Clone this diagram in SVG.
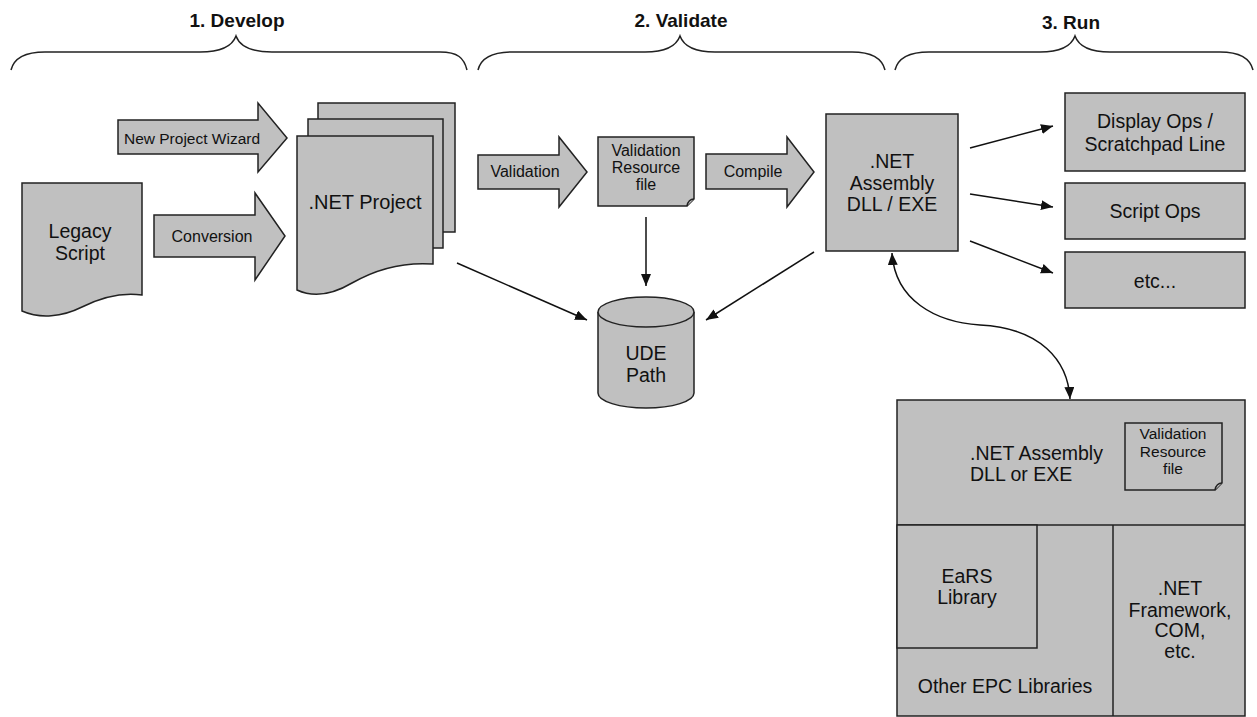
<svg xmlns="http://www.w3.org/2000/svg" width="1257" height="717" viewBox="0 0 1257 717">
<defs>
<style>
.s{fill:#c0c0c0;stroke:#222;stroke-width:1.5;stroke-linejoin:miter}
.t{font-family:"Liberation Sans",Arial,sans-serif;font-size:19.5px;fill:#111;text-anchor:middle}
.sm{font-size:16px}
.h{font-family:"Liberation Sans",Arial,sans-serif;font-size:19px;font-weight:bold;fill:#111;text-anchor:middle}
.br{fill:none;stroke:#222;stroke-width:1.5}
.c{fill:none;stroke:#111;stroke-width:1.5}
</style>
<marker id="ah" viewBox="0 0 12 10" refX="12" refY="5" markerWidth="12" markerHeight="10" markerUnits="userSpaceOnUse" orient="auto-start-reverse">
<path d="M0,0 L12,5 L0,10 Z" fill="#111"/>
</marker>
</defs>
<rect width="1257" height="717" fill="#fff"/>

<g id="phase-develop">
<path class="br" d="M11,70 C14,58 26,52 45,52 L200,52 C220,52 232,47 236,36 C240,47 252,52 272,52 L440,52 C458,52 464,58 467,70"/>
<text class="h" x="237" y="27">1. Develop</text>
</g>
<g id="phase-validate">
<path class="br" d="M478,70 C481,58 493,52 512,52 L645,52 C665,52 676,47 680,36 C684,47 695,52 715,52 L852,52 C870,52 882,58 885,70"/>
<text class="h" x="681" y="27">2. Validate</text>
</g>
<g id="phase-run">
<path class="br" d="M895,70 C898,58 910,52 929,52 L1040,52 C1060,52 1071,47 1075,36 C1079,47 1090,52 1110,52 L1220,52 C1238,52 1250,58 1253,70"/>
<text class="h" x="1071" y="29">3. Run</text>
</g>

<g id="legacy-script">
<path class="s" d="M22,183 H142 V295 C120,292 100,298 82,307 C62,317 40,319 22,311 Z"/>
<text class="t" x="80" y="238">Legacy</text>
<text class="t" x="80" y="260">Script</text>
</g>

<g id="new-project-wizard">
<path class="s" d="M118,120 H258 V103 L287,138 L258,172 V154 H118 Z"/>
<text class="t sm" x="192" y="144" style="font-size:15.5px">New Project Wizard</text>
</g>

<g id="conversion">
<path class="s" d="M154,215 H255 V193 L285,236 L255,280 V257 H154 Z"/>
<text class="t sm" x="212" y="242">Conversion</text>
</g>

<g id="net-project">
<rect class="s" x="318" y="103" width="137" height="129"/>
<rect class="s" x="308" y="119" width="135" height="129"/>
<path class="s" d="M297,136 H433 V264 C405,262 378,268 352,283 C330,296 312,297 297,290 Z"/>
<text class="t" x="365" y="209" style="font-size:20px">.NET Project</text>
</g>

<g id="validation">
<path class="s" d="M478,155 H559 V137 L587,172 L559,207 V189 H478 Z"/>
<text class="t sm" x="525" y="177">Validation</text>
</g>

<g id="validation-resource-file">
<path class="s" d="M598,137 H694 V199 L687,206 H598 Z"/>
<path class="s" d="M694,199 C690,199 688,201 687,206" />
<text class="t sm" x="646" y="156">Validation</text>
<text class="t sm" x="646" y="173">Resource</text>
<text class="t sm" x="646" y="190">file</text>
</g>

<g id="compile">
<path class="s" d="M706,154 H787 V137 L814,172 L787,207 V189 H706 Z"/>
<text class="t sm" x="753" y="177">Compile</text>
</g>

<g id="net-assembly">
<rect class="s" x="826" y="114" width="132" height="137"/>
<text class="t" x="892" y="168">.NET</text>
<text class="t" x="892" y="190">Assembly</text>
<text class="t" x="892" y="211">DLL / EXE</text>
</g>

<g id="ude-path">
<path class="s" d="M598,312 V393 A48,15 0 0 0 694,393 V312"/>
<ellipse class="s" cx="646" cy="312" rx="48" ry="15"/>
<text class="t" x="646" y="360">UDE</text>
<text class="t" x="646" y="382">Path</text>
</g>

<g id="display-ops">
<rect class="s" x="1065" y="93" width="180" height="78"/>
<text class="t" x="1155" y="128">Display Ops /</text>
<text class="t" x="1155" y="151">Scratchpad Line</text>
</g>
<g id="script-ops">
<rect class="s" x="1065" y="183" width="180" height="56"/>
<text class="t" x="1155" y="218">Script Ops</text>
</g>
<g id="etc-ops">
<rect class="s" x="1065" y="252" width="180" height="56"/>
<text class="t" x="1155" y="288">etc...</text>
</g>

<g id="runtime-stack">
<rect class="s" x="897" y="400" width="348" height="316"/>
<line class="s" x1="897" y1="525" x2="1245" y2="525"/>
<line class="s" x1="1113" y1="525" x2="1113" y2="716"/>
<rect class="s" x="897" y="525" width="140" height="123"/>
<text class="t" x="970" y="460" style="text-anchor:start">.NET Assembly</text>
<text class="t" x="970" y="481" style="text-anchor:start">DLL or EXE</text>
<path class="s" d="M1125,423 H1222 V483 L1215,490 H1125 Z"/>
<path class="s" d="M1222,483 C1218,483 1216,485 1215,490"/>
<text class="t" x="1173" y="439" style="font-size:15.5px">Validation</text>
<text class="t" x="1173" y="457" style="font-size:15.5px">Resource</text>
<text class="t" x="1173" y="474" style="font-size:15.5px">file</text>
<text class="t" x="967" y="583">EaRS</text>
<text class="t" x="967" y="604">Library</text>
<text class="t" x="1005" y="693">Other EPC Libraries</text>
<text class="t" x="1180" y="595">.NET</text>
<text class="t" x="1180" y="617">Framework,</text>
<text class="t" x="1180" y="637">COM,</text>
<text class="t" x="1180" y="658">etc.</text>
</g>

<g id="connectors">
<line class="c" x1="646" y1="217" x2="646" y2="286" marker-end="url(#ah)"/>
<line class="c" x1="457" y1="263" x2="587" y2="320" marker-end="url(#ah)"/>
<line class="c" x1="814" y1="252" x2="706" y2="320" marker-end="url(#ah)"/>
<line class="c" x1="970" y1="148" x2="1053" y2="126" marker-end="url(#ah)"/>
<line class="c" x1="970" y1="194" x2="1053" y2="207" marker-end="url(#ah)"/>
<line class="c" x1="970" y1="241" x2="1053" y2="273" marker-end="url(#ah)"/>
<path class="c" d="M892,253 C895,300 935,322 980,325 C1040,328 1068,360 1070,399" marker-start="url(#ah)" marker-end="url(#ah)"/>
</g>
</svg>
